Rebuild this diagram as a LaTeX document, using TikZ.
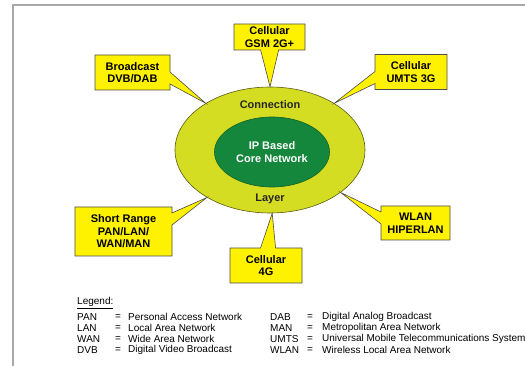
\documentclass[tikz,border=0pt]{standalone}
\usepackage{fontspec}
\setmainfont{Liberation Sans}
\usetikzlibrary{shapes.geometric, shapes.callouts, positioning}
\definecolor{boxYellow}{HTML}{FFF200}
\definecolor{layerGreen}{HTML}{D5DD22}
\definecolor{coreGreen}{HTML}{15873C}
\definecolor{edgeOlive}{HTML}{5A5A12}
\definecolor{frameGray}{HTML}{A8A8A8}

\begin{document}
\begin{tikzpicture}[x=1pt, y=-1pt,
callbox/.style={rectangle callout, draw=black!70, fill=boxYellow, line width=0.6pt, align=center, inner sep=2pt, minimum width=72pt, minimum height=35pt, callout pointer width=12pt, font=\fontsize{11}{12.5}\selectfont\bfseries},
ringtext/.style={font=\fontsize{11}{12.5}\selectfont\bfseries, inner sep=1pt},
legtext/.style={anchor=west, inner sep=0pt, font=\fontsize{10}{11}\selectfont}
]
\useasboundingbox (0,0) rectangle (525,366);
\draw[frameGray, line width=2pt] (13,366) -- (13,5) -- (525,5);

% connection layer and core network
\node[ellipse, draw=edgeOlive, fill=layerGreen, line width=0.6pt, minimum width=190pt, minimum height=126pt, inner sep=0pt] (layer) at (270,150) {};
\node[ellipse, draw=coreGreen!70!black, fill=coreGreen, line width=0.6pt, minimum width=115pt, minimum height=70pt, ringtext, text=white, align=center] (core) at (272,152) {IP Based\\Core Network};
\node[ringtext, text=black!85] (conn) at (270,105) {Connection};
\node[ringtext, text=black!85] (lay) at (270,199) {Layer};

% access networks
\node[callbox, minimum width=75pt, callout absolute pointer={(layer.144)}] (bcast) at (132.5,72.5) {Broadcast\\DVB/DAB};
\node[callbox, minimum width=71pt, minimum height=26pt, callout pointer width=18pt, callout absolute pointer={(layer.90)}] (gsm) at (269.5,37) {Cellular\\GSM 2G+};
\node[callbox, callout absolute pointer={(layer.36)}] (umts) at (411,72) {Cellular\\UMTS 3G};
\node[callbox, minimum width=97pt, minimum height=49pt, callout absolute pointer={(layer.217)}] (short) at (123.5,231.5) {Short Range\\PAN/LAN/\\WAN/MAN};
\node[callbox, callout pointer width=15pt, callout absolute pointer={(layer.272)}] (fourg) at (266,265.5) {Cellular\\4G};
\node[callbox, minimum width=69pt, minimum height=34pt, callout absolute pointer={(layer.329)}] (wlan) at (415.5,223) {WLAN\\HIPERLAN};

% legend
\node[legtext] (legend) at (77,303) {\underline{Legend:}};
\foreach \abbr/\desc [count=\i] in {PAN/Personal Access Network, LAN/Local Area Network, WAN/Wide Area Network, DVB/Digital Video Broadcast}{
  \node[legtext] (la\i) at (77,306+11*\i) {\abbr};
  \node[legtext] (le\i) at (115,306+11*\i) {=};
  \node[legtext] (ld\i) at (128,306+11*\i) {\desc};
}
\foreach \abbr/\desc [count=\i] in {DAB/Digital Analog Broadcast, MAN/Metropolitan Area Network, UMTS/Universal Mobile Telecommunications System, WLAN/Wireless Local Area Network}{
  \node[legtext] (ra\i) at (270,306+11*\i) {\abbr};
  \node[legtext] (re\i) at (307,306+11*\i) {=};
  \node[legtext] (rd\i) at (322,306+11*\i) {\desc};
}
\end{tikzpicture}
\end{document}
